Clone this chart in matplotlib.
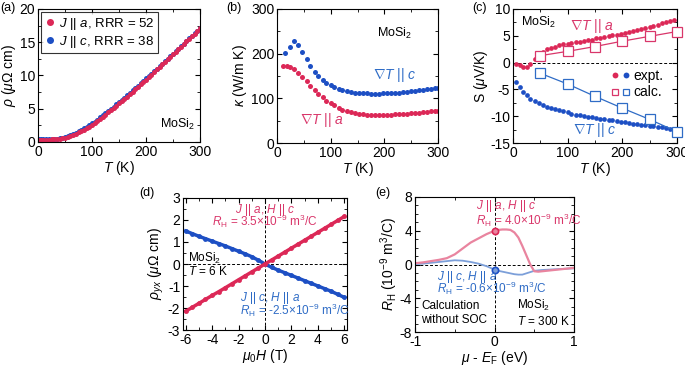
import matplotlib

matplotlib.use("Agg")
import matplotlib.pyplot as plt
from matplotlib.legend_handler import HandlerTuple
from matplotlib.ticker import AutoMinorLocator

plt.rcParams["font.family"] = ["Liberation Sans", "DejaVu Sans"]
plt.rcParams["mathtext.fontset"] = "custom"
plt.rcParams["mathtext.rm"] = "Liberation Sans"
plt.rcParams["mathtext.it"] = "Liberation Sans:italic"
plt.rcParams["mathtext.bf"] = "Liberation Sans:bold"
plt.rcParams["axes.unicode_minus"] = False
plt.rcParams["font.size"] = 10

RED = "#dc2857"
BLUE = "#1d4fc4"
RED_TXT = "#d9366a"
BLUE_TXT = "#2f6cc6"
PINK = "#e9849f"
LBLUE = "#7c9fd9"

# ---- (a) resistivity ------------------------------------------------------ #
T_rho = [2, 5, 10, 15, 20, 25, 30, 35, 40, 45, 50, 55, 60, 65, 70, 75, 80, 85,
         90, 95, 100, 105, 110, 115, 120, 125, 130, 135, 140, 145, 150, 155,
         160, 165, 170, 175, 180, 185, 190, 195, 200, 205, 210, 215, 220, 225,
         230, 235, 240, 245, 250, 255, 260, 265, 270, 275, 280, 285, 290, 295,
         300]
rho_a = [0.36, 0.36, 0.36, 0.36, 0.37, 0.38, 0.40, 0.43, 0.47, 0.55, 0.65,
         0.77, 0.91, 1.07, 1.25, 1.44, 1.64, 1.86, 2.09, 2.33, 2.58, 2.87,
         3.17, 3.48, 3.80, 4.12, 4.45, 4.78, 5.11, 5.45, 5.79, 6.14, 6.49,
         6.84, 7.20, 7.56, 7.92, 8.28, 8.65, 9.02, 9.39, 9.77, 10.15, 10.53,
         10.91, 11.29, 11.67, 12.05, 12.43, 12.81, 13.19, 13.58, 13.97, 14.36,
         14.75, 15.14, 15.53, 15.92, 16.31, 16.70, 17.10]
rho_c = [0.45, 0.45, 0.45, 0.45, 0.46, 0.47, 0.49, 0.52, 0.57, 0.65, 0.76,
         0.89, 1.04, 1.21, 1.40, 1.60, 1.81, 2.04, 2.28, 2.53, 2.79, 3.08,
         3.38, 3.69, 4.01, 4.33, 4.66, 4.99, 5.32, 5.66, 6.00, 6.34, 6.69,
         7.04, 7.39, 7.75, 8.11, 8.47, 8.83, 9.19, 9.55, 9.92, 10.29, 10.66,
         11.03, 11.40, 11.77, 12.14, 12.51, 12.88, 13.26, 13.64, 14.02, 14.40,
         14.79, 15.18, 15.57, 15.96, 16.35, 16.75, 17.15]

# ---- (b) thermal conductivity --------------------------------------------- #
T_kc = [15, 25, 32, 39, 47, 55, 62, 70, 77, 85, 92, 100, 107, 115, 122, 130,
        137, 145, 152, 160, 167, 175, 182, 190, 197, 205, 212, 220, 227, 235,
        242, 250, 257, 265, 272, 280, 287, 295, 300]
kappa_c = [201, 216, 229, 220, 203, 188, 172, 160, 150, 142, 135, 130, 125,
           121, 118, 116, 114, 113, 112, 111, 111, 110, 110, 110, 111, 111,
           112, 113, 113, 114, 115, 116, 117, 118, 119, 121, 122, 123, 124]
T_ka = [12, 18, 25, 32, 40, 47, 55, 62, 70, 77, 85, 92, 100, 107, 115, 122,
        130, 137, 145, 152, 160, 167, 175, 182, 190, 197, 205, 212, 220, 227,
        235, 242, 250, 257, 265, 272, 280, 287, 295, 300]
kappa_a = [173, 172, 170, 166, 157, 148, 138, 128, 119, 110, 102, 95, 89, 84,
           79, 75, 72, 69, 67, 65, 64, 63, 62, 62, 62, 62, 63, 63, 64, 64, 65,
           66, 67, 67, 68, 69, 70, 71, 71, 72]

# ---- (c) Seebeck ---------------------------------------------------------- #
T_s = [5, 12, 18, 25, 32, 40, 47, 55, 62, 70, 77, 85, 92, 100, 107, 115, 122,
       130, 137, 145, 152, 160, 167, 175, 182, 190, 197, 205, 212, 220, 227,
       235, 242, 250, 257, 265, 272, 280, 287, 295]
S_a = [-0.2, -0.5, -0.9, -0.8, -0.3, 0.6, 1.4, 2.0, 2.5, 2.8, 3.0, 3.2, 3.4,
       3.5, 3.7, 3.8, 3.9, 4.1, 4.2, 4.3, 4.5, 4.6, 4.8, 4.9, 5.1, 5.2, 5.4,
       5.6, 5.7, 5.9, 6.1, 6.3, 6.5, 6.7, 6.9, 7.1, 7.3, 7.5, 7.7, 7.9]
S_c = [-3.6, -4.6, -5.4, -6.1, -6.7, -7.2, -7.6, -8.0, -8.3, -8.5, -8.7, -8.9,
       -9.1, -9.3, -9.5, -9.7, -9.8, -10.0, -10.1, -10.2, -10.3, -10.5, -10.6,
       -10.7, -10.8, -10.9, -11.0, -11.1, -11.3, -11.4, -11.5, -11.6, -11.7,
       -11.8, -11.9, -12.0, -12.1, -12.2, -12.3, -12.4]
T_calc = [50, 100, 150, 200, 250, 300]
S_a_calc = [1.3, 2.1, 3.0, 4.0, 4.9, 5.8]
S_c_calc = [-2.0, -4.0, -6.3, -8.5, -10.6, -12.9]

# ---- (d) Hall resistivity ------------------------------------------------- #
H = [-6, -5.5, -5, -4.5, -4, -3.5, -3, -2.5, -2, -1.5, -1, -0.5, 0, 0.5, 1,
     1.5, 2, 2.5, 3, 3.5, 4, 4.5, 5, 5.5, 6]
rhoyx_a = [-2.15, -1.97, -1.79, -1.61, -1.43, -1.26, -1.08, -0.90, -0.72,
           -0.54, -0.36, -0.18, 0.0, 0.18, 0.36, 0.54, 0.72, 0.90, 1.08, 1.26,
           1.44, 1.62, 1.80, 1.98, 2.16]
rhoyx_c = [1.50, 1.38, 1.26, 1.15, 1.04, 0.93, 0.82, 0.70, 0.58, 0.46, 0.33,
           0.17, 0.0, -0.15, -0.28, -0.40, -0.52, -0.64, -0.76, -0.88, -1.00,
           -1.12, -1.24, -1.38, -1.52]

# ---- (e) calculated Hall coefficient -------------------------------------- #
mu = [-1.0, -0.9, -0.8, -0.7, -0.6, -0.5, -0.4, -0.3, -0.2, -0.1, 0.0, 0.05,
      0.1, 0.15, 0.2, 0.25, 0.3, 0.35, 0.4, 0.45, 0.5, 0.55, 0.6, 0.7, 0.8,
      0.9, 1.0]
RH_a = [0.15, 0.25, 0.4, 0.55, 0.75, 1.2, 1.9, 2.6, 3.1, 3.6, 4.0, 4.1, 4.15,
        4.15, 4.1, 3.8, 3.2, 2.2, 1.1, 0.0, -0.8, -0.85, -0.8, -0.7, -0.6,
        -0.5, -0.4]
RH_c = [0.05, 0.1, 0.2, 0.3, 0.4, 0.5, 0.45, 0.3, 0.1, -0.2, -0.6, -0.75,
        -0.85, -0.95, -1.05, -1.15, -1.2, -1.2, -1.05, -0.9, -0.75, -0.7,
        -0.65, -0.6, -0.55, -0.5, -0.45]
mu0 = [0.0]
RH_a0 = [4.0]
RH_c0 = [-0.6]

W, Hpx = 685, 365


def add_axes(fig, left, right, top, bottom):
    return fig.add_axes([left / W, 1 - bottom / Hpx, (right - left) / W,
                         (bottom - top) / Hpx])


def style(ax, nx=2, ny=2):
    ax.tick_params(which="both", direction="in", top=True, right=True,
                   labelsize=10, pad=2)
    ax.tick_params(which="major", length=3.5)
    ax.tick_params(which="minor", length=2)
    ax.xaxis.set_minor_locator(AutoMinorLocator(nx))
    ax.yaxis.set_minor_locator(AutoMinorLocator(ny))
    for s in ax.spines.values():
        s.set_linewidth(0.8)


fig = plt.figure(figsize=(6.85, 3.65), dpi=100)

# (a)
ax = add_axes(fig, 38, 200, 9, 142)
ax.plot(T_rho, rho_c, "o", ms=3.6, color=BLUE, mec="none",
        label=r"$J$ || $c$, RRR = 38")
ax.plot(T_rho, rho_a, "o", ms=3.6, color=RED, mec="none",
        label=r"$J$ || $a$, RRR = 52")
ax.set_xlim(0, 300)
ax.set_ylim(0, 20)
ax.set_xticks([0, 100, 200, 300])
ax.set_yticks([0, 5, 10, 15, 20])
ax.set_xlabel(r"$T$ (K)", labelpad=0)
ax.set_ylabel(r"$\rho$ ($\mu\Omega$ cm)", labelpad=1)
h, l = ax.get_legend_handles_labels()
ax.legend(h[::-1], l[::-1], loc="upper left", fontsize=9.5, frameon=True,
          fancybox=False, edgecolor="black", handlelength=0.8,
          handletextpad=0.3, borderpad=0.25, labelspacing=0.15,
          borderaxespad=0.25, markerscale=1.4).get_frame().set_linewidth(0.8)
ax.text(0.86, 0.13, r"MoSi$_2$", transform=ax.transAxes, ha="center",
        va="center", fontsize=9)
style(ax)
fig.text(0 / W, 1 - 8 / Hpx, "(a)", fontsize=9, va="center")

# (b)
ax = add_axes(fig, 277, 438, 9, 143)
ax.plot(T_kc, kappa_c, "o", ms=3.6, color=BLUE, mec="none")
ax.plot(T_ka, kappa_a, "o", ms=3.6, color=RED, mec="none")
ax.set_xlim(0, 300)
ax.set_ylim(0, 300)
ax.set_xticks([0, 100, 200, 300])
ax.set_yticks([0, 100, 200, 300])
ax.set_xlabel(r"$T$ (K)", labelpad=0)
ax.set_ylabel(r"$\kappa$ (W/m K)", labelpad=1)
ax.text(0.73, 0.82, r"MoSi$_2$", transform=ax.transAxes, ha="center",
        va="center", fontsize=9)
ax.text(0.73, 0.51, r"$\nabla T$ || $c$", transform=ax.transAxes,
        ha="center", va="center", fontsize=10, color=BLUE_TXT)
ax.text(0.28, 0.17, r"$\nabla T$ || $a$", transform=ax.transAxes,
        ha="center", va="center", fontsize=10, color=RED_TXT)
style(ax)
fig.text(226 / W, 1 - 8 / Hpx, "(b)", fontsize=9, va="center")

# (c)
ax = add_axes(fig, 513, 677, 9, 143)
ax.axhline(0, color="black", lw=0.7, ls=(0, (3, 2)))
ax.plot(T_s, S_a, "o", ms=3.4, color=RED, mec="none")
ax.plot(T_s, S_c, "o", ms=3.4, color=BLUE, mec="none")
ax.plot(T_calc, S_a_calc, "s-", ms=6.5, color=RED_TXT, mfc="white",
        mew=0.9, lw=0.9, clip_on=False, zorder=3)
ax.plot(T_calc, S_c_calc, "s-", ms=6.5, color=BLUE_TXT, mfc="white",
        mew=0.9, lw=0.9, clip_on=False, zorder=3)
ax.set_xlim(0, 300)
ax.set_ylim(-15, 10)
ax.set_xticks([0, 100, 200, 300])
ax.set_yticks([-15, -10, -5, 0, 5, 10])
ax.set_xlabel(r"$T$ (K)", labelpad=0)
ax.set_ylabel(r"S ($\mu$V/K)", labelpad=0)
ax.text(0.05, 0.9, r"MoSi$_2$", transform=ax.transAxes, ha="left",
        va="center", fontsize=9)
ax.text(0.48, 0.87, r"$\nabla T$ || $a$", transform=ax.transAxes,
        ha="center", va="center", fontsize=10, color=RED_TXT)
ax.text(0.5, 0.1, r"$\nabla T$ || $c$", transform=ax.transAxes,
        ha="center", va="center", fontsize=10, color=BLUE_TXT)
e1, = ax.plot([], [], "o", ms=4.2, color=RED, mec="none")
e2, = ax.plot([], [], "o", ms=4.2, color=BLUE, mec="none")
c1, = ax.plot([], [], "s", ms=4.2, color=RED_TXT, mfc="white", mew=0.9)
c2, = ax.plot([], [], "s", ms=4.2, color=BLUE_TXT, mfc="white", mew=0.9)
ax.legend([(e1, e2), (c1, c2)], ["expt.", "calc."],
          handler_map={tuple: HandlerTuple(ndivide=None, pad=0.3)},
          loc="center left", bbox_to_anchor=(0.6, 0.44), frameon=False,
          fontsize=10, handlelength=1.3, handletextpad=0.25,
          labelspacing=0.2, borderaxespad=0.0, borderpad=0.0)
style(ax)
fig.text(472 / W, 1 - 8 / Hpx, "(c)", fontsize=9, va="center")

# (d)
ax = add_axes(fig, 183, 347, 198, 330)
ax.axhline(0, color="black", lw=0.7, ls=(0, (3, 2)))
ax.axvline(0, color="black", lw=0.7, ls=(0, (3, 2)))
ax.plot(H, rhoyx_c, "o-", ms=3.5, lw=2.5, color=BLUE, mec="none")
ax.plot(H, rhoyx_a, "o-", ms=3.5, lw=2.5, color=RED, mec="none")
ax.set_xlim(-6.2, 6.2)
ax.set_ylim(-3, 3)
ax.set_xticks([-6, -4, -2, 0, 2, 4, 6])
ax.set_yticks([-3, -2, -1, 0, 1, 2, 3])
ax.set_xlabel(r"$\mu_0H$ (T)", labelpad=0)
ax.set_ylabel(r"$\rho_{yx}$ ($\mu\Omega$ cm)", labelpad=1)
ax.text(0.5, 0.91, r"$J$ || $a$, $H$ || $c$", transform=ax.transAxes,
        ha="center", va="center", fontsize=8.5, color=RED_TXT)
ax.text(0.5, 0.82, r"$R_{\rm H}$ = 3.5$\times$10$^{-9}$ m$^3$/C",
        transform=ax.transAxes, ha="center", va="center", fontsize=8.5,
        color=RED_TXT)
ax.text(0.03, 0.545, r"MoSi$_2$", transform=ax.transAxes, ha="left",
        va="center", fontsize=8.5)
ax.text(0.03, 0.44, r"$T$ = 6 K", transform=ax.transAxes, ha="left",
        va="center", fontsize=8.5)
ax.text(0.35, 0.24, r"$J$ || $c$, $H$ || $a$", transform=ax.transAxes,
        ha="left", va="center", fontsize=8.5, color=BLUE_TXT)
ax.text(0.35, 0.15, r"$R_{\rm H}$ = -2.5$\times$10$^{-9}$ m$^3$/C",
        transform=ax.transAxes, ha="left", va="center", fontsize=8.5,
        color=BLUE_TXT)
style(ax)
fig.text(139 / W, 1 - 193 / Hpx, "(d)", fontsize=9, va="center")

# (e)
ax = add_axes(fig, 415, 574, 197, 332)
ax.axhline(0, color="black", lw=0.7, ls=(0, (3, 2)))
ax.axvline(0, color="black", lw=0.7, ls=(0, (3, 2)))
ax.plot(mu, RH_c, "-", lw=1.3, color=LBLUE)
ax.plot(mu, RH_a, "-", lw=1.6, color=PINK)
ax.plot(mu0, RH_a0, "o", ms=4.5, color=RED, mfc=PINK, mew=1.2)
ax.plot(mu0, RH_c0, "o", ms=4.5, color=BLUE, mfc=LBLUE, mew=1.2)
ax.set_xlim(-1, 1)
ax.set_ylim(-8, 8)
ax.set_xticks([-1, 0, 1])
ax.set_yticks([-8, -4, 0, 4, 8])
ax.set_xlabel(r"$\mu$ - $E_{\rm F}$ (eV)", labelpad=0)
ax.set_ylabel(r"$R_{\rm H}$ (10$^{-9}$ m$^3$/C)", labelpad=0)
ax.text(0.384, 0.935, r"$J$ || $a$, $H$ || $c$", transform=ax.transAxes,
        ha="left", va="center", fontsize=8.5, color=RED_TXT)
ax.text(0.384, 0.83, r"$R_{\rm H}$ = 4.0$\times$10$^{-9}$ m$^3$/C",
        transform=ax.transAxes, ha="left", va="center", fontsize=8.5,
        color=RED_TXT)
ax.text(0.138, 0.41, r"$J$ || $c$, $H$ || $a$", transform=ax.transAxes,
        ha="left", va="center", fontsize=8.5, color=BLUE_TXT)
ax.text(0.138, 0.32, r"$R_{\rm H}$ = -0.6$\times$10$^{-9}$ m$^3$/C",
        transform=ax.transAxes, ha="left", va="center", fontsize=8.5,
        color=BLUE_TXT)
ax.text(0.04, 0.14, "Calculation\nwithout SOC", transform=ax.transAxes,
        ha="left", va="center", fontsize=8.5, linespacing=1.15)
ax.text(0.64, 0.14, "MoSi$_2$\n$T$ = 300 K", transform=ax.transAxes,
        ha="left", va="center", fontsize=8.5, linespacing=1.15)
style(ax, nx=2, ny=4)
fig.text(375 / W, 1 - 193 / Hpx, "(e)", fontsize=9, va="center")

fig.savefig("out.png", dpi=100)
